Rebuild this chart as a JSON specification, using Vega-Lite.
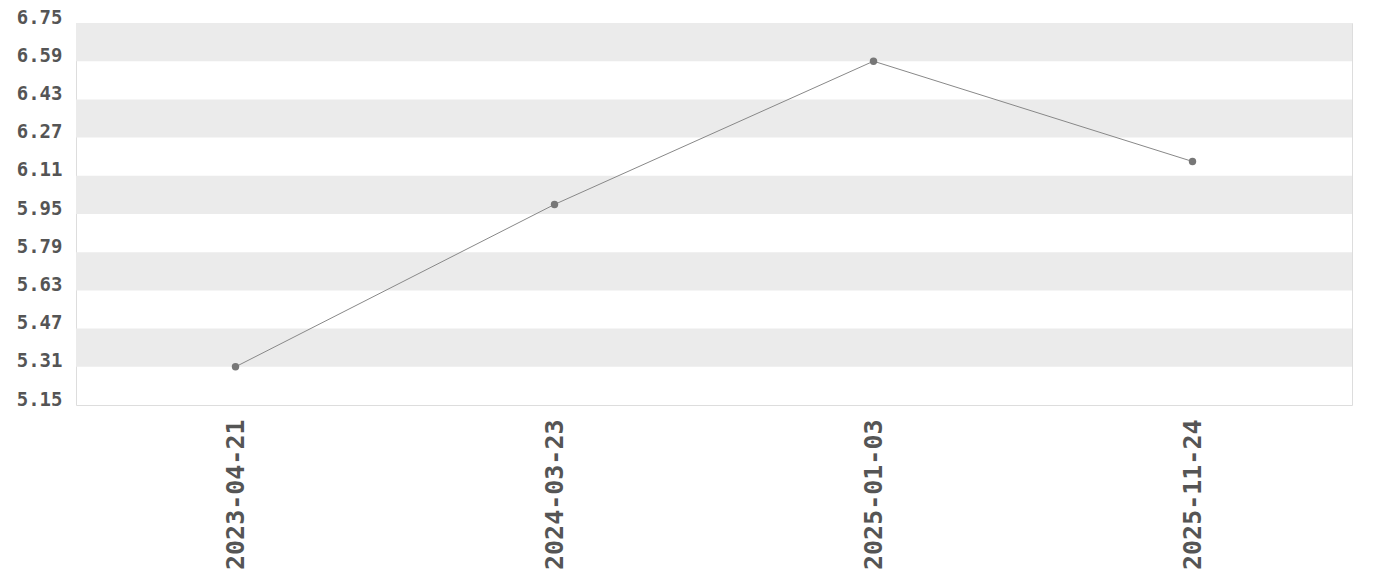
{
  "$schema": "https://vega.github.io/schema/vega-lite/v6.json",
  "width": 1276,
  "height": 382,
  "autosize": {"type": "none"},
  "padding": {"left": 76, "top": 23, "right": 28, "bottom": 175},
  "background": "white",
  "config": {"view": {"stroke": "#dddddd", "strokeWidth": 1}, "axis": {"labelOverlap": false}},
  "datasets": {
    "bands": [
      {"lo": 5.31, "hi": 5.47},
      {"lo": 5.63, "hi": 5.79},
      {"lo": 5.95, "hi": 6.11},
      {"lo": 6.27, "hi": 6.43},
      {"lo": 6.59, "hi": 6.75}
    ],
    "series": [
      {"date": "2023-04-21", "value": 5.31},
      {"date": "2024-03-23", "value": 5.99},
      {"date": "2025-01-03", "value": 6.59},
      {"date": "2025-11-24", "value": 6.17}
    ]
  },
  "layer": [
    {
      "data": {"name": "bands"},
      "mark": {"type": "rect", "color": "#ebebeb"},
      "encoding": {
        "y": {
          "field": "lo", "type": "quantitative",
          "scale": {"domain": [5.15, 6.75], "nice": false, "zero": false},
          "axis": {"title": null, "values": [5.15, 5.31, 5.47, 5.63, 5.79, 5.95, 6.11, 6.27, 6.43, 6.59, 6.75], "format": ".2f", "labelFont": "DejaVu Sans Mono", "labelFontWeight": "bold", "labelFontSize": 19, "labelColor": "#555555", "labelBaseline": "alphabetic", "domain": false, "ticks": false, "grid": false, "labelPadding": 14, "labelOverlap": false, "labelFlush": false}
        },
        "y2": {"field": "hi"}
      }
    },
    {
      "data": {"name": "series"},
      "mark": {"type": "line", "color": "#888888", "strokeWidth": 1, "point": {"filled": true, "color": "#777777", "size": 55}},
      "encoding": {
        "x": {
          "field": "date", "type": "ordinal",
          "scale": {"type": "point", "padding": 0.5},
          "axis": {"title": null, "labelAngle": -90, "labelFont": "DejaVu Sans Mono", "labelFontWeight": "bold", "labelFontSize": 25, "labelColor": "#555555", "domain": false, "ticks": false, "labelPadding": 14, "grid": false, "labelOverlap": false}
        },
        "y": {
          "field": "value", "type": "quantitative",
          "scale": {"domain": [5.15, 6.75], "nice": false, "zero": false},
          "axis": {"title": null, "values": [5.15, 5.31, 5.47, 5.63, 5.79, 5.95, 6.11, 6.27, 6.43, 6.59, 6.75], "format": ".2f", "labelFont": "DejaVu Sans Mono", "labelFontWeight": "bold", "labelFontSize": 19, "labelColor": "#555555", "labelBaseline": "alphabetic", "domain": false, "ticks": false, "grid": false, "labelPadding": 14, "labelOverlap": false, "labelFlush": false}
        }
      }
    }
  ]
}
